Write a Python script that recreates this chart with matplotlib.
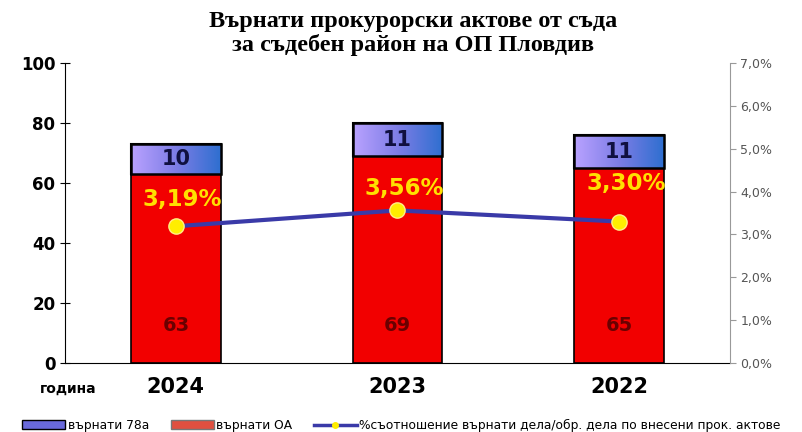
import numpy as np
import matplotlib.pyplot as plt
from matplotlib.colors import LinearSegmentedColormap
from matplotlib.patches import Patch
from matplotlib.lines import Line2D

years = ["2024", "2023", "2022"]
returned_oa = [63, 69, 65]
returned_78a = [10, 11, 11]
ratio_pct = [3.19, 3.56, 3.30]
ratio_labels = ["3,19%", "3,56%", "3,30%"]

fig = plt.figure(figsize=(8.03, 4.32), dpi=100)
ax = fig.add_axes([0.081, 0.16, 0.828, 0.694])
ax2 = ax.twinx()

x = np.arange(len(years))
w = 0.405
bars_oa = ax.bar(x, returned_oa, w, color="#f20000", edgecolor="black", linewidth=1.2, zorder=2)
bars_78 = ax.bar(x, returned_78a, w, bottom=returned_oa, color="#8a86ee", edgecolor="black",
                 linewidth=1.5, zorder=2)

# gradient on top segment (lavender -> blue)
cmap = LinearSegmentedColormap.from_list("g", ["#b9a2ff", "#7d7de6", "#2f6fd0"])
grad = np.linspace(0, 1, 100).reshape(1, -1)
for b in bars_78:
    x0, y0 = b.get_x(), b.get_y()
    im = ax.imshow(grad, cmap=cmap, aspect="auto", extent=[x0, x0 + b.get_width(), y0, y0 + b.get_height()],
                   zorder=2.5)
    im.set_clip_path(b)
    ax.add_patch(plt.Rectangle((x0, y0), b.get_width(), b.get_height(), fill=False,
                               edgecolor="black", linewidth=1.8, zorder=3))

for i in range(len(years)):
    ax.text(x[i], 12.5, str(returned_oa[i]), ha="center", va="center", fontsize=14,
            fontweight="bold", color="#6a0000", zorder=4)
    ax.text(x[i], returned_oa[i] + returned_78a[i] / 2, str(returned_78a[i]), ha="center",
            va="center", fontsize=15, fontweight="bold", color="#101040", zorder=4)

ax.set_xlim(-0.5, 2.5)
ax.set_ylim(0, 100)
ax.set_yticks(range(0, 101, 20))
ax.set_xticks(x)
ax.set_xticklabels(years, fontsize=15, fontweight="bold")
ax.tick_params(axis="y", labelsize=12, direction="inout", length=7)
for lab in ax.get_yticklabels():
    lab.set_fontweight("bold")
ax.tick_params(axis="x", length=0, pad=10)
ax.spines["top"].set_visible(False)
ax.spines["right"].set_visible(False)

ax2.plot(x, ratio_pct, color="#3a3aa8", linewidth=3, marker="o", markersize=11,
         markerfacecolor="#ffee00", markeredgecolor="#ffee88", zorder=5)
label_offsets = [0.62, 0.50, 0.88]
for i in range(len(years)):
    ax2.text(x[i] + 0.03, ratio_pct[i] + label_offsets[i], ratio_labels[i], ha="center", va="center",
             fontsize=16.5, fontweight="bold", color="#ffe000", zorder=6)
ax2.set_ylim(0, 7)
ax2.set_yticks(np.arange(0, 7.01, 1))
ax2.set_yticklabels([f"{v:.1f}%".replace(".", ",") for v in np.arange(0, 7.01, 1)],
                    fontsize=9, color="#555555")
ax2.tick_params(axis="y", direction="out", length=4, colors="#999999", labelcolor="#555555")
ax2.spines["right"].set_color("#999999")
ax2.spines["top"].set_visible(False)
ax2.spines["left"].set_visible(False)
ax2.spines["bottom"].set_visible(False)

fig.text(0.515, 0.975, "Върнати прокурорски актове от съда\nза съдебен район на ОП Пловдив",
         ha="center", va="top", fontsize=17.5, fontweight="bold", family="Liberation Serif",
         linespacing=1.1)
fig.text(0.05, 0.10, "година", ha="left", va="center", fontsize=10, fontweight="bold")

handles = [Patch(facecolor="#6a6adc", edgecolor="black"),
           Patch(facecolor="#e05040", edgecolor="#777777"),
           Line2D([0], [0], color="#3a3aa8", lw=2.5, marker="o", markersize=4,
                  markerfacecolor="#ffee00", markeredgecolor="#ffee00")]
labels = ["върнати 78а", "върнати ОА", "%съотношение върнати дела/обр. дела по внесени прок. актове"]
fig.legend(handles, labels, loc="lower center", bbox_to_anchor=(0.5, -0.025), ncol=3, frameon=False,
           fontsize=8.8, handlelength=3.5, handletextpad=0.2, columnspacing=1.8)

fig.savefig("out.png", dpi=100)
